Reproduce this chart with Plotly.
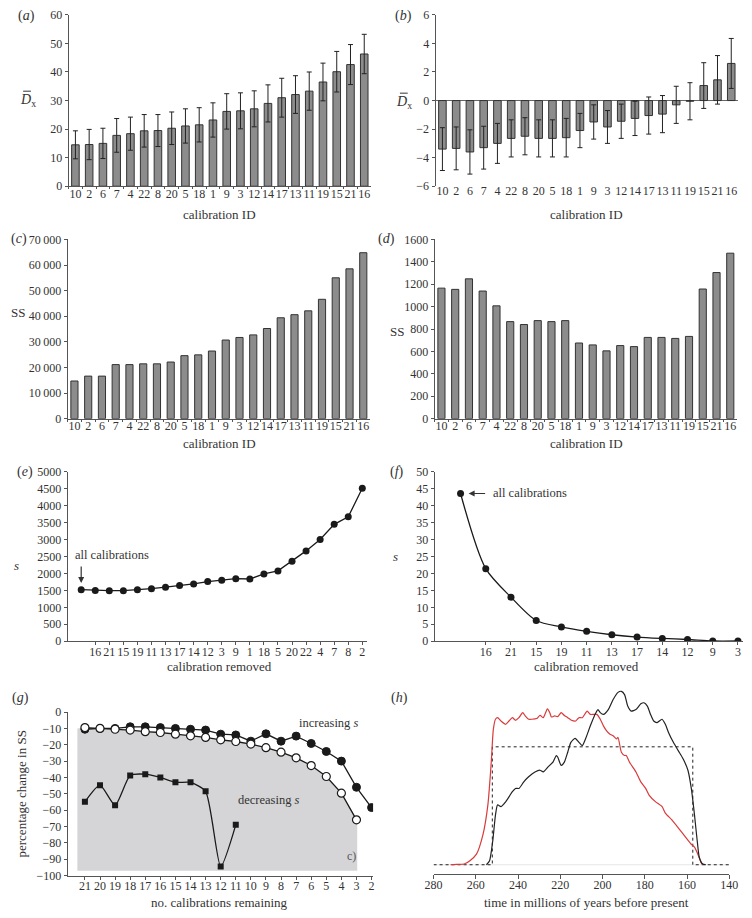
import plotly.graph_objects as go

# ---------------- data ----------------
cal_ids = ["10", "2", "6", "7", "4", "22", "8", "20", "5", "18", "1",
           "9", "3", "12", "14", "17", "13", "11", "19", "15", "21", "16"]

dx_a = [14.5, 14.6, 15.0, 17.8, 18.4, 19.4, 19.5, 20.3, 21.1, 21.5, 23.2,
        26.2, 26.4, 27.1, 29.0, 31.0, 32.1, 33.3, 36.5, 40.1, 42.6, 46.3]
err_a = [4.9, 5.3, 5.3, 5.9, 5.8, 5.7, 5.6, 5.7, 6.0, 6.0, 6.0,
         6.2, 6.3, 6.3, 6.5, 6.8, 6.6, 6.7, 6.6, 7.1, 7.0, 6.9]

dx_b = [-3.4, -3.35, -3.6, -3.3, -3.0, -2.65, -2.5, -2.65, -2.65, -2.6, -2.1,
        -1.5, -1.85, -1.45, -1.25, -1.05, -0.95, -0.3, -0.05, 1.05, 1.45, 2.6]
err_b = [1.5, 1.5, 1.55, 1.5, 1.4, 1.3, 1.3, 1.3, 1.3, 1.35, 1.2,
         1.2, 1.15, 1.2, 1.2, 1.3, 1.3, 1.3, 1.3, 1.6, 1.7, 1.75]

ss_c = [14700, 16600, 16600, 21100, 21100, 21400, 21400, 22100, 24600, 24900, 26400,
        30700, 31700, 32700, 35200, 39400, 40600, 42100, 46600, 55000, 58500, 64800]
ss_c_ticks = [0, 10000, 20000, 30000, 40000, 50000, 60000, 70000]
ss_c_ticktext = ["0", "10\u2009000", "20\u2009000", "30\u2009000", "40\u2009000",
                 "50\u2009000", "60\u2009000", "70\u2009000"]

ss_d = [1165, 1154, 1248, 1139, 1007, 866, 840, 875, 866, 875, 675,
        658, 605, 652, 643, 725, 725, 716, 734, 1157, 1304, 1477]

# first point of (e) and (f) = all calibrations (no tick label)
removed_e = ["16", "21", "15", "19", "11", "13", "17", "14", "12", "3",
             "9", "1", "18", "5", "20", "22", "4", "7", "8", "2"]
s_e = [1520, 1495, 1490, 1490, 1515, 1550, 1595, 1640, 1690, 1760, 1795,
       1845, 1835, 1985, 2075, 2360, 2665, 3000, 3450, 3670, 4515]

removed_f = ["16", "21", "15", "19", "11", "13", "17", "14", "12", "9", "3"]
s_f = [43.6, 21.4, 13.0, 6.1, 4.2, 2.9, 1.9, 1.2, 0.8, 0.5, 0.05, 0.05]

remaining_inc = [21, 20, 19, 18, 17, 16, 15, 14, 13, 12, 11, 10, 9, 8, 7, 6, 5, 4, 3, 2]
pct_inc = [-10.5, -10, -10, -9, -9, -9.5, -10, -10.5, -11, -13.5, -14,
           -17.8, -13.3, -17.8, -14.7, -19.2, -24.1, -30, -46, -58.4]
remaining_open = [21, 20, 19, 18, 17, 16, 15, 14, 13, 12, 11, 10, 9, 8, 7, 6, 5, 4, 3]
pct_open = [-9.5, -10, -10.5, -11, -12, -12.5, -13.5, -14.5, -15.5, -17, -18,
            -19.6, -21.8, -24.5, -28, -32.7, -39.4, -49.6, -65.9]
remaining_dec = [21, 20, 19, 18, 17, 16, 15, 14, 13, 12, 11]
pct_dec = [-54.9, -44.7, -57, -38.8, -38, -40, -43, -43, -48.5, -94.5, -69]
g_ticks = [21, 20, 19, 18, 17, 16, 15, 14, 13, 12, 11, 10, 9, 8, 7, 6, 5, 4, 3, 2]

time_red = [272.0, 269.0, 265.5, 262.8, 259.7, 256.6, 254.3, 252.7, 251.7, 250.7, 249.7,
            248.1, 245.8, 244.3, 242.7, 241.2, 239.6, 237.8, 236.6, 235.0, 233.5,
            231.2, 229.6, 228.1, 227.3, 226.1, 225.0, 224.2, 222.7, 221.2, 219.6,
            218.1, 216.5, 215.0, 212.7, 211.2, 209.6, 207.3, 205.8, 204.2, 202.7,
            201.1, 199.6, 198.1, 196.5, 195.0, 193.4, 192.7, 191.1, 189.6, 188.8,
            187.3, 184.2, 181.9, 179.6, 178.0, 175.0, 171.9, 170.3, 167.3, 164.2,
            161.1, 158.0, 156.5, 154.9, 153.4, 152.6]
dens_red = [0.0, 0.002, 0.004, 0.023, 0.061, 0.175, 0.345, 0.592, 0.782, 0.839, 0.848,
            0.829, 0.810, 0.829, 0.848, 0.833, 0.848, 0.877, 0.858, 0.839, 0.839,
            0.843, 0.861, 0.848, 0.867, 0.899, 0.877, 0.852, 0.858, 0.854, 0.877,
            0.861, 0.848, 0.835, 0.829, 0.848, 0.848, 0.886, 0.867, 0.867, 0.867,
            0.839, 0.801, 0.772, 0.753, 0.744, 0.725, 0.734, 0.649, 0.630, 0.630,
            0.592, 0.535, 0.478, 0.440, 0.402, 0.364, 0.336, 0.298, 0.260, 0.213,
            0.165, 0.118, 0.102, 0.061, 0.013, 0.0]

time_black = [255.0, 253.5, 252.0, 250.7, 249.7, 248.1, 245.8, 242.7, 241.2, 239.6,
              237.3, 235.0, 232.0, 229.6, 228.1, 225.8, 223.5, 221.9, 221.2, 219.6,
              218.1, 216.5, 215.0, 213.0, 211.2, 209.6, 208.1, 205.8, 203.9, 202.2,
              201.1, 199.6, 197.3, 195.0, 192.7, 191.1, 189.6, 188.1, 186.5, 184.2,
              181.9, 180.4, 178.8, 177.3, 175.8, 174.2, 171.9, 170.3, 168.8, 166.5,
              164.2, 161.9, 159.6, 158.0, 156.5, 155.2, 154.2, 152.6, 151.1]
dens_black = [0.0, 0.023, 0.137, 0.288, 0.345, 0.335, 0.364, 0.421, 0.440, 0.440,
              0.478, 0.507, 0.535, 0.545, 0.535, 0.564, 0.592, 0.630, 0.620, 0.573,
              0.592, 0.649, 0.706, 0.729, 0.706, 0.687, 0.725, 0.801, 0.858, 0.895,
              0.877, 0.867, 0.895, 0.953, 0.994, 1.0, 0.981, 0.915, 0.886, 0.895,
              0.928, 0.934, 0.915, 0.867, 0.829, 0.820, 0.839, 0.810, 0.763, 0.706,
              0.658, 0.611, 0.545, 0.440, 0.288, 0.137, 0.042, 0.004, 0.0]

time_prior = [280, 252.2, 252.2, 157.3, 157.3, 140]
dens_prior = [0, 0, 0.68, 0.68, 0, 0]
h_ticks = [280, 260, 240, 220, 200, 180, 160, 140]

# ---------------- layout helpers ----------------
W, H = 752, 918
FONT = "Liberation Serif"
AX = "#555555"
BAR = "#8c8c8c"
DARK = "#1a1a1a"
TXT = "#333333"


def px(x):
    return x / W


def py(y):
    return 1 - y / H


fig = go.Figure()

bar_line = dict(color="#333", width=1)
# (a)
fig.add_trace(go.Bar(x=cal_ids, y=dx_a, width=0.55, marker=dict(color=BAR, line=bar_line),
                     error_y=dict(type="data", array=err_a, color="#222", thickness=1, width=2.5),
                     xaxis="x", yaxis="y"))
# (b)
fig.add_trace(go.Bar(x=cal_ids, y=dx_b, width=0.55, marker=dict(color=BAR, line=bar_line),
                     error_y=dict(type="data", array=err_b, color="#222", thickness=1, width=2.5),
                     xaxis="x2", yaxis="y2"))
# (c)
fig.add_trace(go.Bar(x=cal_ids, y=ss_c, width=0.52, marker=dict(color=BAR, line=bar_line),
                     xaxis="x3", yaxis="y3"))
# (d)
fig.add_trace(go.Bar(x=cal_ids, y=ss_d, width=0.52, marker=dict(color=BAR, line=bar_line),
                     xaxis="x4", yaxis="y4"))
# (e)
fig.add_trace(go.Scatter(x=list(range(len(s_e))), y=s_e, mode="lines+markers",
                         line=dict(color=DARK, width=1.3), marker=dict(color=DARK, size=7),
                         xaxis="x5", yaxis="y5"))
# (f)
fig.add_trace(go.Scatter(x=list(range(len(s_f))), y=s_f, mode="lines+markers",
                         line=dict(color=DARK, width=1.3, shape="spline", smoothing=0.8),
                         marker=dict(color=DARK, size=7),
                         xaxis="x6", yaxis="y6"))
# (g) shaded region following open circles
fill_x = [21.5] + remaining_open + [2.95, 2.95, 21.5]
fill_y = [-10] + pct_open + [-65.9, -97, -97]
fig.add_trace(go.Scatter(x=fill_x, y=fill_y, mode="lines", fill="toself", fillcolor="#d5d5d7",
                         line=dict(width=0), xaxis="x7", yaxis="y7", hoverinfo="skip"))
fig.add_trace(go.Scatter(x=remaining_inc, y=pct_inc, mode="lines+markers",
                         line=dict(color=DARK, width=1.3),
                         marker=dict(color=DARK, size=8, line=dict(color=DARK, width=1)),
                         xaxis="x7", yaxis="y7"))
fig.add_trace(go.Scatter(x=remaining_open, y=pct_open, mode="lines+markers",
                         line=dict(color=DARK, width=1.3),
                         marker=dict(color="white", size=8, line=dict(color=DARK, width=1.2)),
                         xaxis="x7", yaxis="y7"))
fig.add_trace(go.Scatter(x=remaining_dec, y=pct_dec, mode="lines+markers",
                         line=dict(color=DARK, width=1.3, shape="spline", smoothing=0.6),
                         marker=dict(color=DARK, size=6, symbol="square"),
                         xaxis="x7", yaxis="y7"))
# (h)
fig.add_trace(go.Scatter(x=[284, 140], y=[0, 0], mode="lines", line=dict(color="#e6e6e6", width=1),
                         xaxis="x8", yaxis="y8", hoverinfo="skip"))
fig.add_trace(go.Scatter(x=time_prior, y=dens_prior, mode="lines",
                         line=dict(color="#222", width=1, dash="dot"), xaxis="x8", yaxis="y8"))
fig.add_trace(go.Scatter(x=time_red, y=dens_red, mode="lines",
                         line=dict(color="#d93a3a", width=1.2, shape="spline", smoothing=0.6),
                         xaxis="x8", yaxis="y8"))
fig.add_trace(go.Scatter(x=time_black, y=dens_black, mode="lines",
                         line=dict(color="#222", width=1.2, shape="spline", smoothing=0.6),
                         xaxis="x8", yaxis="y8"))

tickfont = dict(family=FONT, size=12, color=TXT)


def xbase(domain, anchor, **kw):
    d = dict(domain=[px(domain[0]), px(domain[1])], anchor=anchor, showline=True, linecolor=AX,
             linewidth=1, ticks="outside", ticklen=3, tickcolor=AX, tickangle=0,
             ticklabelstandoff=-4,
             tickfont=tickfont, showgrid=False, zeroline=False, fixedrange=True)
    d.update(kw)
    return d


def xcat(domain, anchor, **kw):
    return xbase(domain, anchor, type="category", tickson="boundaries", dtick=1,
                 range=[-0.5, 21.5], ticklen=2, **kw)


def yax(domain, rng, dtick=None, **kw):
    d = dict(domain=[py(domain[1]), py(domain[0])], range=rng, showline=True, linecolor=AX, linewidth=1,
             ticks="outside", ticklen=3, tickcolor=AX, tickfont=tickfont, showgrid=False,
             zeroline=False, fixedrange=True)
    if dtick is not None:
        d["dtick"] = dtick
    d.update(kw)
    return d


xa = xcat((61, 371), "y")
xb = xcat((437, 747), "y2", showline=False)
xb["ticks"] = ""
xc = xcat((60, 370), "y3")
xd = xcat((436, 746), "y4")
xe = xbase((60, 367), "y5", range=[-0.97, 20.35], tickvals=list(range(1, len(s_e))), ticktext=removed_e)
xf = xbase((436, 752), "y6", range=[-1.03, 11.2], tickvals=list(range(1, len(s_f))), ticktext=removed_f)
xg = xbase((60, 373), "y7", range=[22.15, 1.9], tickvals=g_ticks)
xh = xbase((435, 738), "y8", range=[280, 140], tickvals=h_ticks, ticklen=4)

fig.update_layout(
    width=W, height=H, margin=dict(l=0, r=0, t=0, b=0), showlegend=False,
    paper_bgcolor="white", plot_bgcolor="rgba(0,0,0,0)",
    font=dict(family=FONT, size=12, color=TXT),
    xaxis=xa, xaxis2=xb, xaxis3=xc, xaxis4=xd, xaxis5=xe, xaxis6=xf, xaxis7=xg, xaxis8=xh,
    yaxis=yax((8, 182), [0, 60], 10, anchor="x"),
    yaxis2=yax((8, 182), [-6, 6], 2, anchor="x2", zeroline=True, zerolinecolor="#666", zerolinewidth=1),
    yaxis3=yax((236, 418), [0, 70000], anchor="x3", tickvals=ss_c_ticks, ticktext=ss_c_ticktext),
    yaxis4=yax((236, 418), [0, 1600], 200, anchor="x4"),
    yaxis5=yax((472, 644), [0, 5000], 500, anchor="x5"),
    yaxis6=yax((472, 644), [0, 50], 5, anchor="x6"),
    yaxis7=yax((716, 882), [-100, 0], 10, anchor="x7"),
    yaxis8=dict(domain=[py(880), py(690)], range=[-0.051, 1.028], visible=False, anchor="x8", fixedrange=True),
)


def ann(text, x, y, size=12.5, xanchor="center", yanchor="middle", color=TXT, textangle=0):
    fig.add_annotation(text=text, x=px(x), y=py(y), xref="paper", yref="paper", showarrow=False,
                       xanchor=xanchor, yanchor=yanchor, textangle=textangle,
                       font=dict(family=FONT, size=size, color=color))


def overbar(x0, x1, y):
    fig.add_shape(type="line", xref="paper", yref="paper", x0=px(x0), x1=px(x1), y0=py(y), y1=py(y),
                  line=dict(color=TXT, width=1))


def arrow(x0, y0, x1, y1):
    # arrow drawn from (x0, y0) to the head at (x1, y1), pixel coordinates of the page
    fig.add_shape(type="line", xref="paper", yref="paper", x0=px(x0), y0=py(y0), x1=px(x1), y1=py(y1),
                  line=dict(color="#333", width=1.2))


# panel labels
ann("(<i>a</i>)", 7, 9, 14, "left")
ann("(<i>b</i>)", 393, 9, 14, "left")
ann("(<i>c</i>)", 0, 236, 14, "left")
ann("(<i>d</i>)", 376, 236, 14, "left")
ann("(<i>e</i>)", 6, 472, 14, "left")
ann("(<i>f</i>)", 388, 472, 14, "left")
ann("(<i>g</i>)", 1, 702, 14, "left")
ann("(<i>h</i>)", 389, 702, 14, "left")

# axis titles
ann("<i>D</i><sub>x</sub>", 19, 95, 14)
overbar(14.5, 22.5, 85.5)
ann("<i>D</i><sub>x</sub>", 405, 97, 14)
overbar(400.5, 408.5, 87.5)
ann("calibration ID", 216, 211, 13)
ann("calibration ID", 592, 211, 13)
ann("SS", 9, 310, 13)
ann("SS", 398, 330, 13)
ann("calibration ID", 216, 443, 13)
ann("calibration ID", 592, 443, 13)
ann("<i>s</i>", 8, 567, 13)
ann("<i>s</i>", 396, 558, 13)
ann("calibration removed", 216, 670, 13)
ann("calibration removed", 592, 670, 13)
ann("percentage change in SS", 13, 799, 13, textangle=-90)
ann("no. calibrations remaining", 216, 909, 13)
ann("time in millions of years before present", 592, 909, 13)

# panel (g) texts
ann("increasing <i>s</i>", 328, 727, 12.5)
ann("decreasing <i>s</i>", 266, 805, 12.5)
ann("c)", 351, 862, 12, color="#555")

# (e) annotation: label with downward arrow
ann("all calibrations", 106, 556, 12.5)
fig.add_annotation(x=0, y=1720, xref="x5", yref="y5", ax=0, ay=-18, text="", showarrow=True,
                   arrowhead=2, arrowsize=1, arrowwidth=1.2, arrowcolor="#333")
# (f) annotation: label with leftward arrow
ann("all calibrations", 494, 494, 12.5, "left")
fig.add_annotation(x=0.32, y=s_f[0], xref="x6", yref="y6", ax=18, ay=0, text="", showarrow=True,
                   arrowhead=2, arrowsize=1, arrowwidth=1.2, arrowcolor="#333")

fig.write_html("out.html", config={"displayModeBar": False},
               post_script="document.body.style.margin='0';")
